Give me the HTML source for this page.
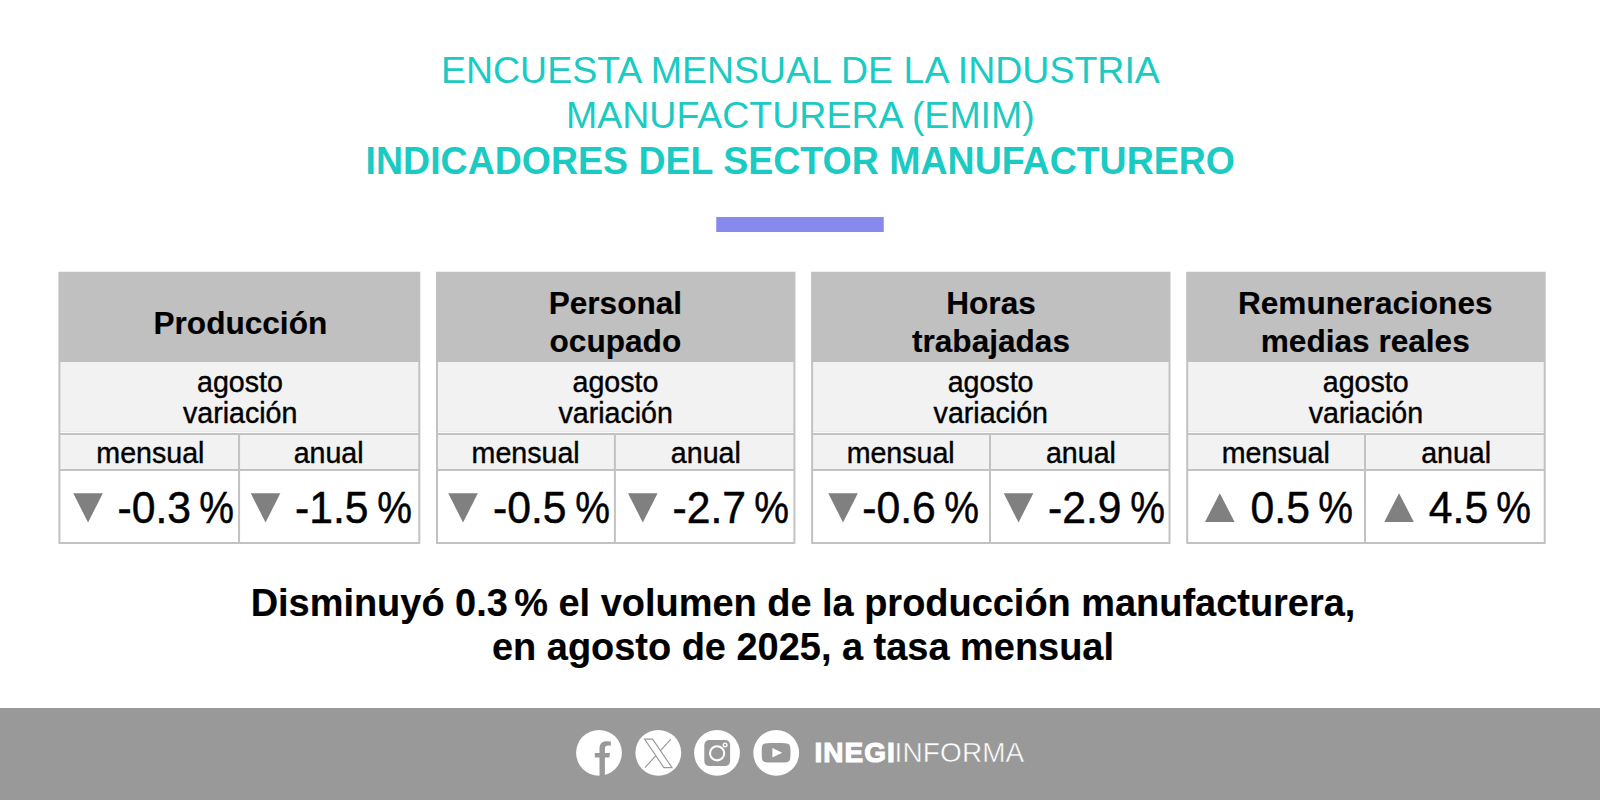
<!DOCTYPE html>
<html lang="es"><head><meta charset="utf-8"><title>EMIM - Indicadores del sector manufacturero</title>
<style>
html,body{margin:0;padding:0;background:#fff;}
body{width:1600px;height:800px;position:relative;overflow:hidden;font-family:"Liberation Sans", Arial, Helvetica, sans-serif;}
.t{position:absolute;white-space:nowrap;margin:0;padding:0;}
.b{position:absolute;}
.sp{letter-spacing:-0.15em;}
.pc{display:inline-block;transform:scaleX(0.915);transform-origin:100% 50%;position:relative;left:-0.5px;}
</style></head><body>

<div class="t" style="left:200.39999999999998px;width:1200px;text-align:center;top:52.36px;font-size:37.5px;line-height:37.5px;font-weight:normal;color:#1bcac2;transform:scaleY(1.005);transform-origin:0 31.74px;">ENCUESTA MENSUAL DE LA INDUSTRIA</div>
<div class="t" style="left:200.39999999999998px;width:1200px;text-align:center;top:97.16px;font-size:37.5px;line-height:37.5px;font-weight:normal;color:#1bcac2;transform:scaleY(1.005);transform-origin:0 31.74px;">MANUFACTURERA (EMIM)</div>
<div class="t" style="left:200.29999999999995px;width:1200px;text-align:center;top:143.16px;font-size:37.5px;line-height:37.5px;font-weight:bold;color:#1bcac2;transform:scaleY(1.03);transform-origin:0 31.74px;">INDICADORES DEL SECTOR MANUFACTURERO</div>
<svg class="b" style="left:0;top:0" width="1600" height="800" viewBox="0 0 1600 800">
<rect x="716.25" y="217" width="167.5" height="15" fill="#8789ec"/>
<rect x="0" y="708" width="1600" height="92" fill="#999999"/>
<rect x="58.40" y="271.75" width="361.90" height="90.25" fill="#c0c0c0"/>
<rect x="58.40" y="362" width="361.90" height="182" fill="#c2c2c2"/>
<rect x="60.40" y="362" width="357.90" height="69.6" fill="#f2f2f2"/>
<rect x="60.40" y="431.6" width="357.90" height="1.4" fill="#fdfdfd"/>
<rect x="60.40" y="435" width="357.90" height="34" fill="#f2f2f2"/>
<rect x="60.40" y="471" width="357.90" height="71" fill="#ffffff"/>
<rect x="238.05" y="435" width="2" height="107" fill="#c2c2c2"/>
<polygon points="73.25,493.2 102.85,493.2 88.05,522.6" fill="#808080"/>
<polygon points="250.75,493.2 280.35,493.2 265.55,522.6" fill="#808080"/>
<rect x="436.00" y="271.75" width="359.40" height="90.25" fill="#c0c0c0"/>
<rect x="436.00" y="362" width="359.40" height="182" fill="#c2c2c2"/>
<rect x="438.00" y="362" width="355.40" height="69.6" fill="#f2f2f2"/>
<rect x="438.00" y="431.6" width="355.40" height="1.4" fill="#fdfdfd"/>
<rect x="438.00" y="435" width="355.40" height="34" fill="#f2f2f2"/>
<rect x="438.00" y="471" width="355.40" height="71" fill="#ffffff"/>
<rect x="613.90" y="435" width="2" height="107" fill="#c2c2c2"/>
<polygon points="448.25,493.2 477.85,493.2 463.05,522.6" fill="#808080"/>
<polygon points="628,493.2 657.6,493.2 642.8,522.6" fill="#808080"/>
<rect x="811.10" y="271.75" width="359.40" height="90.25" fill="#c0c0c0"/>
<rect x="811.10" y="362" width="359.40" height="182" fill="#c2c2c2"/>
<rect x="813.10" y="362" width="355.40" height="69.6" fill="#f2f2f2"/>
<rect x="813.10" y="431.6" width="355.40" height="1.4" fill="#fdfdfd"/>
<rect x="813.10" y="435" width="355.40" height="34" fill="#f2f2f2"/>
<rect x="813.10" y="471" width="355.40" height="71" fill="#ffffff"/>
<rect x="989.00" y="435" width="2" height="107" fill="#c2c2c2"/>
<polygon points="828.25,493.2 857.85,493.2 843.05,522.6" fill="#808080"/>
<polygon points="1003.75,493.2 1033.35,493.2 1018.55,522.6" fill="#808080"/>
<rect x="1186.20" y="271.75" width="359.50" height="90.25" fill="#c0c0c0"/>
<rect x="1186.20" y="362" width="359.50" height="182" fill="#c2c2c2"/>
<rect x="1188.20" y="362" width="355.50" height="69.6" fill="#f2f2f2"/>
<rect x="1188.20" y="431.6" width="355.50" height="1.4" fill="#fdfdfd"/>
<rect x="1188.20" y="435" width="355.50" height="34" fill="#f2f2f2"/>
<rect x="1188.20" y="471" width="355.50" height="71" fill="#ffffff"/>
<rect x="1364.00" y="435" width="2" height="107" fill="#c2c2c2"/>
<polygon points="1205,521.9 1234.6,521.9 1219.8,493.2" fill="#808080"/>
<polygon points="1384.25,521.9 1413.85,521.9 1399.05,493.2" fill="#808080"/>
</svg>
<div class="t" style="left:-359.65px;width:1200px;text-align:center;top:308.25px;font-size:31.6px;line-height:31.6px;font-weight:bold;color:#000;transform:scaleY(1.02);transform-origin:0 26.75px;-webkit-text-stroke:0.15px #000;">Producción</div>
<div class="t" style="left:-360.05px;width:1200px;text-align:center;top:368.19px;font-size:28.6px;line-height:28.6px;font-weight:normal;color:#000;-webkit-text-stroke:0.4px #000;">agosto</div>
<div class="t" style="left:-359.85px;width:1200px;text-align:center;top:399.19px;font-size:28.6px;line-height:28.6px;font-weight:normal;color:#000;-webkit-text-stroke:0.4px #000;">variación</div>
<div class="t" style="left:-449.625px;width:1200px;text-align:center;top:438.99px;font-size:28.6px;line-height:28.6px;font-weight:normal;color:#000;-webkit-text-stroke:0.4px #000;">mensual</div>
<div class="t" style="left:-271.375px;width:1200px;text-align:center;top:438.99px;font-size:28.6px;line-height:28.6px;font-weight:normal;color:#000;-webkit-text-stroke:0.4px #000;">anual</div>
<div class="t" style="left:117.6px;top:486.78px;font-size:42.67px;line-height:42.67px;font-weight:normal;color:#000;transform:scaleY(1.04);transform-origin:0 36.12px;-webkit-text-stroke:0.45px #000;">-0.3<span class="sp"> </span><span class="pc">%</span></div>
<div class="t" style="left:295.1px;top:486.78px;font-size:42.67px;line-height:42.67px;font-weight:normal;color:#000;transform:scaleY(1.04);transform-origin:0 36.12px;-webkit-text-stroke:0.45px #000;">-1.5<span class="sp"> </span><span class="pc">%</span></div>
<div class="t" style="left:15.400000000000091px;width:1200px;text-align:center;top:288.25px;font-size:31.6px;line-height:31.6px;font-weight:bold;color:#000;transform:scaleY(1.02);transform-origin:0 26.75px;-webkit-text-stroke:0.15px #000;">Personal</div>
<div class="t" style="left:15.400000000000091px;width:1200px;text-align:center;top:325.75px;font-size:31.6px;line-height:31.6px;font-weight:bold;color:#000;transform:scaleY(1.02);transform-origin:0 26.75px;-webkit-text-stroke:0.15px #000;">ocupado</div>
<div class="t" style="left:15.5px;width:1200px;text-align:center;top:368.19px;font-size:28.6px;line-height:28.6px;font-weight:normal;color:#000;-webkit-text-stroke:0.4px #000;">agosto</div>
<div class="t" style="left:15.700000000000045px;width:1200px;text-align:center;top:399.19px;font-size:28.6px;line-height:28.6px;font-weight:normal;color:#000;-webkit-text-stroke:0.4px #000;">variación</div>
<div class="t" style="left:-74.39999999999998px;width:1200px;text-align:center;top:438.99px;font-size:28.6px;line-height:28.6px;font-weight:normal;color:#000;-webkit-text-stroke:0.4px #000;">mensual</div>
<div class="t" style="left:105.84999999999991px;width:1200px;text-align:center;top:438.99px;font-size:28.6px;line-height:28.6px;font-weight:normal;color:#000;-webkit-text-stroke:0.4px #000;">anual</div>
<div class="t" style="left:493.1px;top:486.78px;font-size:42.67px;line-height:42.67px;font-weight:normal;color:#000;transform:scaleY(1.04);transform-origin:0 36.12px;-webkit-text-stroke:0.45px #000;">-0.5<span class="sp"> </span><span class="pc">%</span></div>
<div class="t" style="left:672.6px;top:486.78px;font-size:42.67px;line-height:42.67px;font-weight:normal;color:#000;transform:scaleY(1.04);transform-origin:0 36.12px;-webkit-text-stroke:0.45px #000;">-2.7<span class="sp"> </span><span class="pc">%</span></div>
<div class="t" style="left:391.0px;width:1200px;text-align:center;top:288.25px;font-size:31.6px;line-height:31.6px;font-weight:bold;color:#000;transform:scaleY(1.02);transform-origin:0 26.75px;-webkit-text-stroke:0.15px #000;">Horas</div>
<div class="t" style="left:391.0px;width:1200px;text-align:center;top:325.75px;font-size:31.6px;line-height:31.6px;font-weight:bold;color:#000;transform:scaleY(1.02);transform-origin:0 26.75px;-webkit-text-stroke:0.15px #000;">trabajadas</div>
<div class="t" style="left:390.5999999999999px;width:1200px;text-align:center;top:368.19px;font-size:28.6px;line-height:28.6px;font-weight:normal;color:#000;-webkit-text-stroke:0.4px #000;">agosto</div>
<div class="t" style="left:390.79999999999995px;width:1200px;text-align:center;top:399.19px;font-size:28.6px;line-height:28.6px;font-weight:normal;color:#000;-webkit-text-stroke:0.4px #000;">variación</div>
<div class="t" style="left:300.70000000000005px;width:1200px;text-align:center;top:438.99px;font-size:28.6px;line-height:28.6px;font-weight:normal;color:#000;-webkit-text-stroke:0.4px #000;">mensual</div>
<div class="t" style="left:480.95000000000005px;width:1200px;text-align:center;top:438.99px;font-size:28.6px;line-height:28.6px;font-weight:normal;color:#000;-webkit-text-stroke:0.4px #000;">anual</div>
<div class="t" style="left:862.35px;top:486.78px;font-size:42.67px;line-height:42.67px;font-weight:normal;color:#000;transform:scaleY(1.04);transform-origin:0 36.12px;-webkit-text-stroke:0.45px #000;">-0.6<span class="sp"> </span><span class="pc">%</span></div>
<div class="t" style="left:1048.1px;top:486.78px;font-size:42.67px;line-height:42.67px;font-weight:normal;color:#000;transform:scaleY(1.04);transform-origin:0 36.12px;-webkit-text-stroke:0.45px #000;">-2.9<span class="sp"> </span><span class="pc">%</span></div>
<div class="t" style="left:765.25px;width:1200px;text-align:center;top:288.25px;font-size:31.6px;line-height:31.6px;font-weight:bold;color:#000;transform:scaleY(1.02);transform-origin:0 26.75px;-webkit-text-stroke:0.15px #000;">Remuneraciones</div>
<div class="t" style="left:765.25px;width:1200px;text-align:center;top:325.75px;font-size:31.6px;line-height:31.6px;font-weight:bold;color:#000;transform:scaleY(1.02);transform-origin:0 26.75px;-webkit-text-stroke:0.15px #000;">medias reales</div>
<div class="t" style="left:765.75px;width:1200px;text-align:center;top:368.19px;font-size:28.6px;line-height:28.6px;font-weight:normal;color:#000;-webkit-text-stroke:0.4px #000;">agosto</div>
<div class="t" style="left:765.95px;width:1200px;text-align:center;top:399.19px;font-size:28.6px;line-height:28.6px;font-weight:normal;color:#000;-webkit-text-stroke:0.4px #000;">variación</div>
<div class="t" style="left:675.825px;width:1200px;text-align:center;top:438.99px;font-size:28.6px;line-height:28.6px;font-weight:normal;color:#000;-webkit-text-stroke:0.4px #000;">mensual</div>
<div class="t" style="left:856.125px;width:1200px;text-align:center;top:438.99px;font-size:28.6px;line-height:28.6px;font-weight:normal;color:#000;-webkit-text-stroke:0.4px #000;">anual</div>
<div class="t" style="left:1250.6px;top:486.78px;font-size:42.67px;line-height:42.67px;font-weight:normal;color:#000;transform:scaleY(1.04);transform-origin:0 36.12px;-webkit-text-stroke:0.45px #000;">0.5<span class="sp"> </span><span class="pc">%</span></div>
<div class="t" style="left:1428.85px;top:486.78px;font-size:42.67px;line-height:42.67px;font-weight:normal;color:#000;transform:scaleY(1.04);transform-origin:0 36.12px;-webkit-text-stroke:0.45px #000;">4.5<span class="sp"> </span><span class="pc">%</span></div>
<div class="t" style="left:203px;width:1200px;text-align:center;top:584.68px;font-size:37.95px;line-height:37.95px;font-weight:bold;color:#000;transform:scaleY(1.02);transform-origin:0 32.12px;-webkit-text-stroke:0.15px #000;">Disminuyó 0.3<span style="letter-spacing:-0.11em"> </span>% el volumen de la producción manufacturera,</div>
<div class="t" style="left:203px;width:1200px;text-align:center;top:628.68px;font-size:37.95px;line-height:37.95px;font-weight:bold;color:#000;transform:scaleY(1.02);transform-origin:0 32.12px;-webkit-text-stroke:0.15px #000;">en agosto de 2025, a tasa mensual</div>
<svg class="b" style="left:560px;top:720px" width="260" height="70" viewBox="560 720 260 70">
<!-- facebook -->
<circle cx="599" cy="752.8" r="22.9" fill="#fff"/>
<path d="M599.5 776.5 V757.5 H594.8 V752.9 H599.5 V748.6 C599.5 743.8 602.2 741.3 606.6 741.3 C608.4 741.3 609.9 741.5 610.9 741.7 V745.6 H608.4 C605.9 745.6 604.9 746.6 604.9 748.9 V752.9 H610 L609.4 757.5 H604.9 V776.5 Z" fill="#999999"/>
<!-- x -->
<circle cx="658.3" cy="752.8" r="22.9" fill="#fff"/>
<g fill="none" stroke="#999999" stroke-width="1.15" stroke-linejoin="miter">
<path d="M670.9 739.1 L659.6 751.6 M656.3 755.2 L645 767.6"/>
<path d="M644.6 739.1 H652.6 L672 767.6 H663.9 Z" fill="#fff"/>
</g>
<!-- instagram -->
<circle cx="717" cy="752.9" r="22.9" fill="#fff"/>
<rect x="704.3" y="740.1" width="25.8" height="26" rx="5" ry="5" fill="#999999"/>
<circle cx="717.1" cy="753.3" r="7.1" fill="none" stroke="#fff" stroke-width="2.1"/>
<circle cx="725.1" cy="744.9" r="1.8" fill="none" stroke="#fff" stroke-width="1.4"/>
<!-- youtube -->
<circle cx="776.2" cy="752.9" r="22.9" fill="#fff"/>
<path d="M765.6 743.4 C771 742.9 781.2 742.9 786.6 743.4 C788.8 743.6 790 744.8 790.2 747 C790.6 750.6 790.6 755 790.2 758.6 C790 760.8 788.8 762 786.6 762.2 C781.2 762.7 771 762.7 765.6 762.2 C763.4 762 762.2 760.8 762 758.6 C761.6 755 761.6 750.6 762 747 C762.2 744.8 763.4 743.6 765.6 743.4 Z" fill="#999999"/>
<path d="M772.4 748 L782.2 752.8 L772.4 757.6 Z" fill="#fff"/>
</svg>

<div class="t" style="left:814.6px;top:738.70px;font-size:28px;line-height:28px;font-weight:bold;color:#fff;-webkit-text-stroke:1.1px #fff;letter-spacing:1.0px;">INEGI</div>
<div class="t" style="left:894.6px;top:738.70px;font-size:28px;line-height:28px;font-weight:normal;color:#fff;-webkit-text-stroke:0.5px #999999;letter-spacing:0.1px;">INFORMA</div>
</body></html>
